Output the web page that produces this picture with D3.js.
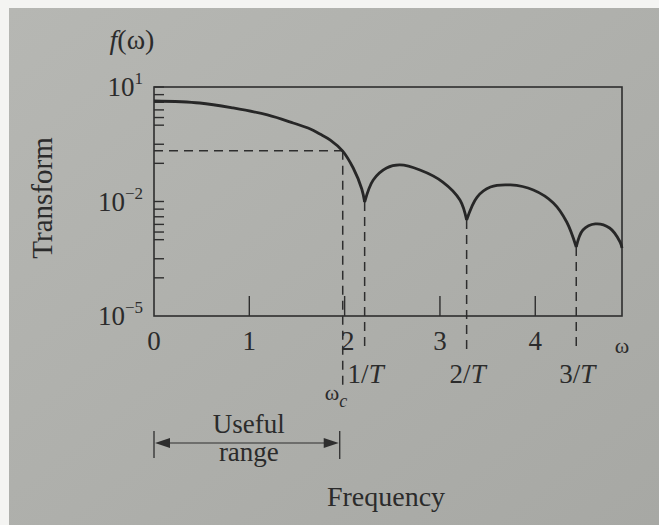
<!DOCTYPE html>
<html lang="en">
<head>
    <meta charset="UTF-8">
    <title>Transform vs Frequency</title>
    <script src="https://d3js.org/d3.v7.min.js"></script>
    <style>
        body, html {
            margin: 0;
            padding: 0;
            overflow: hidden;
            width: 100%;
            height: 100%;
            background: #f4f4f2;
        }
        svg {
            display: block;
        }
        text {
            font-family: "Liberation Serif", "DejaVu Serif", serif;
            fill: #2b2b2b;
        }
    </style>
</head>
<body>
    <svg width="659" height="525"></svg>

    <script>
        // curve (frequency, transform value)
        const omega = [0, 0.48, 0.83, 1.19, 1.46, 1.64, 1.74, 1.85, 1.98, 2.09, 2.18, 2.21,
                       2.30, 2.44, 2.58, 2.79, 3.03, 3.21, 3.28,
                       3.39, 3.53, 3.74, 3.98, 4.19, 4.33, 4.43,
                       4.50, 4.63, 4.78, 4.89, 4.91];
        const transform = [4.30, 3.81, 2.82, 1.85, 1.14, 0.794, 0.587, 0.408, 0.210, 0.0755, 0.0213, 0.0097,
                           0.0366, 0.0755, 0.0906, 0.0670, 0.0324, 0.01096, 0.00328,
                           0.0131, 0.0240, 0.0271, 0.0200, 0.00914, 0.00290, 0.000643,
                           0.00179, 0.00258, 0.00202, 0.000869, 0.000605];

        const nullLabels = ["1", "2", "3"];      // n/T
        const nullOmega = [2.21, 3.28, 4.43];
        const cutoffOmega = 1.98;
        const cutoffLevel = 0.214;

        const xTicks = [0, 1, 2, 3, 4];
        const yLabelExp = [1, -2, -5];
        const yTickExp = [1, 0.8, 0.6, 0.4, 0.2, 0, -0.5, -1, -2, -2.2, -2.4, -2.6, -2.8, -3, -3.5, -4];

        const svg = d3.select("svg");
        const ink = "#2e2e2e";

        // photographed paper
        const defs = svg.append("defs");
        const grad = defs.append("linearGradient").attr("id", "paper")
            .attr("x1", "0").attr("y1", "0").attr("x2", "1").attr("y2", "1");
        grad.append("stop").attr("offset", "0").attr("stop-color", "#b6b7b3");
        grad.append("stop").attr("offset", "1").attr("stop-color", "#a7a8a4");
        svg.append("rect").attr("x", 9).attr("y", 8).attr("width", 650).attr("height", 517)
            .attr("fill", "url(#paper)");

        const x = d3.scaleLinear().domain([0, 4.91]).range([154, 622]);
        const y = d3.scaleLog().domain([1e-5, 1e1]).range([316, 87]);
        const [x0, x1] = x.range();
        const [yb, yt] = y.range();

        // frame
        svg.append("rect")
            .attr("x", x0).attr("y", yt)
            .attr("width", x1 - x0).attr("height", yb - yt)
            .attr("fill", "none").attr("stroke", ink).attr("stroke-width", 1.6);

        // y ticks (inside, pointing right)
        svg.append("g").selectAll("line")
            .data(yTickExp)
            .join("line")
            .attr("x1", x0).attr("x2", x0 + 10)
            .attr("y1", d => y(Math.pow(10, d))).attr("y2", d => y(Math.pow(10, d)))
            .attr("stroke", ink).attr("stroke-width", 1.4);

        const yl = svg.append("g").selectAll("text")
            .data(yLabelExp)
            .join("text")
            .attr("x", 143)
            .attr("y", d => y(Math.pow(10, d)) + 9)
            .attr("text-anchor", "end")
            .attr("font-size", 27);
        yl.append("tspan").text("10");
        yl.append("tspan").attr("dy", -12).attr("font-size", 17)
            .text(d => d < 0 ? "\u2212" + (-d) : d);

        // x ticks (inside, pointing up)
        svg.append("g").selectAll("line")
            .data(xTicks.filter(d => d > 0))
            .join("line")
            .attr("x1", d => x(d)).attr("x2", d => x(d))
            .attr("y1", yb).attr("y2", yb - 20)
            .attr("stroke", ink).attr("stroke-width", 1.4);

        svg.append("g").selectAll("text")
            .data(xTicks)
            .join("text")
            .attr("x", d => x(d) + (d === 2 ? 3 : 0))
            .attr("y", yb + 34)
            .attr("text-anchor", "middle")
            .attr("font-size", 27)
            .text(d => d);

        svg.append("text")
            .attr("x", x1).attr("y", yb + 37)
            .attr("text-anchor", "middle").attr("font-size", 22)
            .text("\u03c9");

        // dashed guides
        const dash = "9,6";
        svg.append("line")
            .attr("x1", x0).attr("x2", x(cutoffOmega))
            .attr("y1", y(cutoffLevel)).attr("y2", y(cutoffLevel))
            .attr("stroke", ink).attr("stroke-width", 1.5).attr("stroke-dasharray", dash);
        svg.append("line")
            .attr("x1", x(cutoffOmega)).attr("x2", x(cutoffOmega))
            .attr("y1", y(cutoffLevel)).attr("y2", yb + 72)
            .attr("stroke", ink).attr("stroke-width", 1.5).attr("stroke-dasharray", dash);

        const nullValue = nullOmega.map(w => transform[omega.indexOf(w)]);
        svg.append("g").selectAll("line")
            .data(nullOmega)
            .join("line")
            .attr("x1", d => x(d)).attr("x2", d => x(d))
            .attr("y1", (d, i) => y(nullValue[i])).attr("y2", yb + 36)
            .attr("stroke", ink).attr("stroke-width", 1.5).attr("stroke-dasharray", dash);

        const nl = svg.append("g").selectAll("text")
            .data(nullOmega)
            .join("text")
            .attr("x", d => x(d) + 1)
            .attr("y", yb + 67)
            .attr("text-anchor", "middle")
            .attr("font-size", 27);
        nl.append("tspan").text((d, i) => nullLabels[i] + "/");
        nl.append("tspan").attr("font-style", "italic").text("T");

        const wc = svg.append("text")
            .attr("x", x(cutoffOmega) - 18).attr("y", yb + 84)
            .attr("font-size", 22);
        wc.append("tspan").text("\u03c9");
        wc.append("tspan").attr("dy", 7).attr("font-size", 18).attr("font-style", "italic").text("c");

        // curve: smooth lobes joined at sharp nulls
        const pts = omega.map((w, i) => [w, transform[i]]);
        const lobes = [];
        let cur = [];
        pts.forEach(p => {
            cur.push(p);
            if (nullOmega.includes(p[0])) { lobes.push(cur); cur = [p]; }
        });
        lobes.push(cur);

        const line = d3.line()
            .x(d => x(d[0]))
            .y(d => y(d[1]))
            .curve(d3.curveCatmullRom.alpha(0.5));

        svg.append("g").selectAll("path")
            .data(lobes)
            .join("path")
            .attr("d", line)
            .attr("fill", "none")
            .attr("stroke", "#272727")
            .attr("stroke-width", 2.8)
            .attr("stroke-linejoin", "miter");

        // useful range annotation
        const ay = 443;
        const xa = x0, xbEnd = x(cutoffOmega) - 3;
        svg.append("line").attr("x1", xa).attr("x2", xa).attr("y1", ay - 12).attr("y2", ay + 15)
            .attr("stroke", ink).attr("stroke-width", 1.3);
        svg.append("line").attr("x1", xbEnd).attr("x2", xbEnd).attr("y1", ay - 12).attr("y2", ay + 16)
            .attr("stroke", ink).attr("stroke-width", 1.3);
        svg.append("line").attr("x1", xa + 10).attr("x2", xbEnd - 10).attr("y1", ay).attr("y2", ay)
            .attr("stroke", ink).attr("stroke-width", 1.2);
        svg.append("path")
            .attr("d", `M${xa + 1},${ay} l15,-5 l0,10 Z M${xbEnd - 1},${ay} l-15,-5 l0,10 Z`)
            .attr("fill", ink);

        svg.append("text").attr("x", (xa + xbEnd) / 2 + 2).attr("y", 433)
            .attr("text-anchor", "middle").attr("font-size", 27).text("Useful");
        svg.append("text").attr("x", (xa + xbEnd) / 2 + 2).attr("y", 461)
            .attr("text-anchor", "middle").attr("font-size", 27).text("range");

        // axis titles
        svg.append("text").attr("x", 386).attr("y", 506)
            .attr("text-anchor", "middle").attr("font-size", 28).text("Frequency");
        svg.append("text")
            .attr("transform", "translate(52,198) rotate(-90)")
            .attr("text-anchor", "middle").attr("font-size", 29).text("Transform");

        const fw = svg.append("text").attr("x", 132).attr("y", 49)
            .attr("text-anchor", "middle").attr("font-size", 28);
        fw.append("tspan").attr("font-style", "italic").text("f");
        fw.append("tspan").text("(\u03c9)");
    </script>
</body>
</html>
